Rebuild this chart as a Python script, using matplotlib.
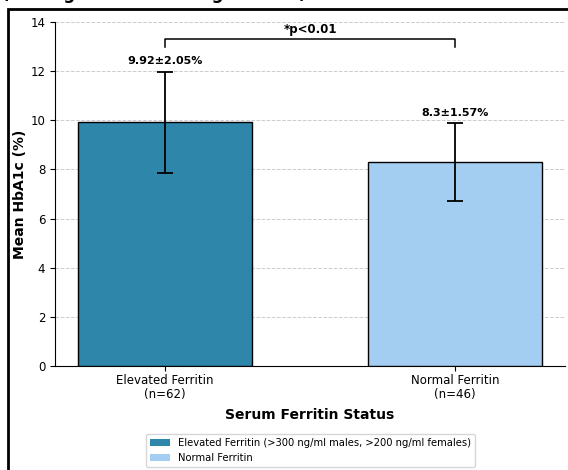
import matplotlib
matplotlib.use("Agg")
import matplotlib.pyplot as plt
from matplotlib.patches import Rectangle, Patch

# data
groups = ["Elevated Ferritin\n(n=62)", "Normal Ferritin\n(n=46)"]
legend_labels = ["Elevated Ferritin (>300 ng/ml males, >200 ng/ml females)", "Normal Ferritin"]
means = [9.92, 8.3]
sds = [2.05, 1.57]
colors = ["#2E86AB", "#A3CEF1"]
y_ticks = [0, 2, 4, 6, 8, 10, 12, 14]
p_label = "*p<0.01"

fig = plt.figure(figsize=(5.68, 4.70), dpi=100)
ax = fig.add_axes([0.0968, 0.2213, 0.898, 0.7319])

x = list(range(len(groups)))
ax.bar(x, means, width=0.6, color=colors, edgecolor="black", linewidth=1.0,
       yerr=sds, capsize=6, error_kw={"elinewidth": 1.3, "capthick": 1.3, "ecolor": "black"},
       zorder=3)

for xi, m, s in zip(x, means, sds):
    ax.text(xi, m + s + 0.22, f"{m}\u00b1{s}%", ha="center", va="bottom",
            fontsize=8, fontweight="bold")

# significance bracket
y0, y1 = 12.98, 13.3
ax.plot([x[0], x[0], x[1], x[1]], [y0, y1, y1, y0], color="black", lw=1.1, zorder=4)
ax.text((x[0] + x[1]) / 2, y1 + 0.12, p_label, ha="center", va="bottom",
        fontsize=8.5, fontweight="bold")

ax.set_ylim(0, 14)
ax.set_yticks(y_ticks)
ax.set_xticks(x)
ax.set_xticklabels(groups, fontsize=8.5, linespacing=1.05)
ax.tick_params(axis="x", pad=2.5)
ax.tick_params(axis="y", labelsize=8.5)
ax.set_ylabel("Mean HbA1c (%)", fontsize=10, fontweight="bold", labelpad=2)
ax.set_xlabel("Serum Ferritin Status", fontsize=10, fontweight="bold", labelpad=5)
ax.yaxis.grid(True, linestyle="--", color="#cccccc", linewidth=0.7, zorder=0)
ax.set_axisbelow(True)
ax.spines["top"].set_visible(False)
ax.spines["right"].set_visible(False)

handles = [Patch(facecolor=c, edgecolor="none") for c in colors]
ax.legend(handles, legend_labels, loc="upper center", bbox_to_anchor=(0.5458, 0.087),
          bbox_transform=fig.transFigure, fontsize=7.2, frameon=True, edgecolor="#cccccc")

# frame of the original (cropped) figure panel and the clipped title above it
fig.patches.append(Rectangle((0.014, -0.1), 1.2, 1.081, transform=fig.transFigure,
                             fill=False, edgecolor="black", linewidth=2, clip_on=False))
fig.text(0.004, 1.003, "(Average HbA1c Among Ferritin)", ha="left", va="baseline",
         fontsize=12, fontweight="bold")

fig.savefig("out.png", dpi=100)
